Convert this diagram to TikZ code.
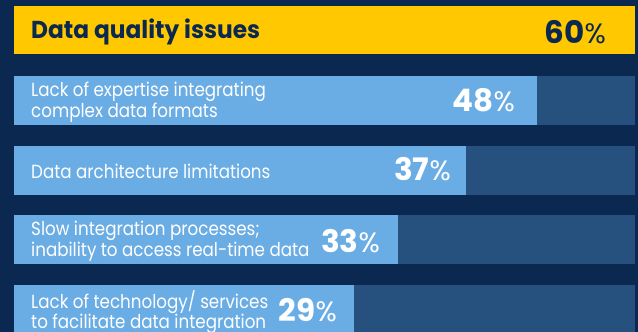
\documentclass[tikz,border=0pt]{standalone}
\usepackage{fontspec}
\newfontfamily\bodyfont{Poppins}[FakeStretch=0.88]
\newfontfamily\headfont{Poppins}[FakeStretch=0.95]
\newfontfamily\numfont{Poppins}
\definecolor{navy}{HTML}{0A2850}
\definecolor{gold}{HTML}{FFC800}
\definecolor{lightbar}{HTML}{6AACE4}
\definecolor{darkbar}{HTML}{26507E}
\tikzset{
  lbl/.style={inner sep=0pt, text=white, font=\bodyfont\fontsize{19}{19}\selectfont, align=left},
  pct/.style={inner sep=0pt, text=white, font=\numfont\fontsize{31}{31}\selectfont},
}
\newcommand{\pctnum}[1]{\textbf{#1}{\fontsize{28}{28}\selectfont\%}}
\begin{document}
\begin{tikzpicture}[x=1pt,y=-1pt]
\fill[navy] (0,0) rectangle (638,332);
\useasboundingbox (0,0) rectangle (638,332);
% bar 1
\fill[gold] (14,6) rectangle (635,54.3);
\node[inner sep=0pt, anchor=base west, text=navy, font=\headfont\fontsize{24.5}{24.5}\selectfont\bfseries] (t1) at (31,38.8) {Data quality issues};
\node[pct, text=navy, anchor=base east] (p1) at (606,43) {\pctnum{60}};
% bar 2
\fill[darkbar] (14,76) rectangle (635,125);
\fill[lightbar] (14,76) rectangle (537,125);
\node[lbl, anchor=west] (t2) at (31,102) {Lack of expertise integrating\\complex data formats};
\node[pct, anchor=base east] (p2) at (515,111.7) {\pctnum{48}};
% bar 3
\fill[darkbar] (14,146) rectangle (635,194.7);
\fill[lightbar] (14,146) rectangle (466,194.7);
\node[lbl, anchor=base west] (t3) at (31,178) {Data architecture limitations};
\node[pct, anchor=base east] (p3) at (451,180) {\pctnum{37}};
% bar 4
\fill[darkbar] (14,215) rectangle (635,264);
\fill[lightbar] (14,215) rectangle (398,264);
\node[lbl, anchor=west] (t4) at (31,241) {Slow integration processes;\\inability to access real-time data};
\node[pct, anchor=base east] (p4) at (380,252) {\pctnum{33}};
% bar 5
\fill[darkbar] (14,285) rectangle (635,332);
\fill[lightbar] (14,285) rectangle (354,332);
\node[lbl, anchor=west] (t5) at (31,312) {Lack of technology/ services\\to facilitate data integration};
\node[pct, anchor=base east] (p5) at (337,321) {\pctnum{29}};
\end{tikzpicture}
\end{document}
